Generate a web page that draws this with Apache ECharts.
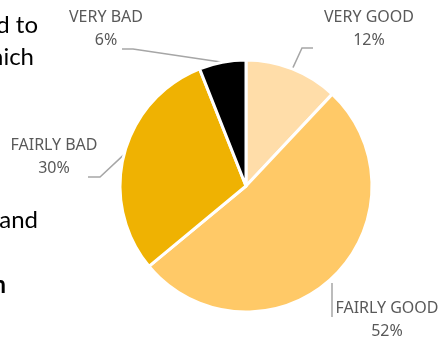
<!DOCTYPE html>
<html>
<head>
<meta charset="utf-8">
<style>
  html, body { margin: 0; padding: 0; background: #fff; }
  #chart { width: 440px; height: 344px; }
</style>
<script src="https://cdn.jsdelivr.net/npm/echarts@6/dist/echarts.min.js"></script>
</head>
<body>
<div id="chart"></div>
<script>
// Survey answers, in clockwise order from twelve o'clock
const categories = ['VERY GOOD', 'FAIRLY GOOD', 'FAIRLY BAD', 'VERY BAD'];
const shares = [12, 52, 30, 6];
const sliceColors = ['#FFDDA9', '#FFC967', '#EFB202', '#000000'];

// Where each label block sits and how its leader line bends
const labelSpots = [
  { x: 369, y: 29, bend: [[302, 48], [313, 48]] },
  { x: 387, y: 320, line: [[332, 283], [332, 317]] },
  { x: 54, y: 157, bend: [[100, 177], [88, 177]] },
  { x: 106, y: 29, bend: [[133, 49], [122, 49]] }
];

// Body text running beside the chart, clipped at the left edge
const sideText = [
  { text: 'd to', right: 38, y: 25, bold: false },
  { text: 'hich', right: 34, y: 57, bold: false },
  { text: 'and', right: 38, y: 220, bold: false },
  { text: 'n', right: 6, y: 285, bold: true }
];

const chart = echarts.init(document.getElementById('chart'));

chart.setOption({
  animation: false,
  backgroundColor: '#ffffff',
  graphic: sideText.map(t => ({
    type: 'text',
    x: t.right,
    y: t.y,
    style: {
      text: t.text,
      fill: '#000000',
      font: (t.bold ? 'bold ' : '') + '24px Lato',
      align: 'right',
      verticalAlign: 'middle'
    }
  })),
  series: [{
    type: 'pie',
    center: [246, 186],
    radius: 126,
    startAngle: 90,
    clockwise: true,
    itemStyle: { borderColor: '#ffffff', borderWidth: 3 },
    label: {
      show: true,
      formatter: p => p.name + '\n' + p.value + '%',
      color: '#595959',
      fontFamily: 'Noto Sans',
      fontSize: 16,
      lineHeight: 23,
      align: 'center',
      overflow: 'none'
    },
    labelLine: {
      show: true,
      lineStyle: { color: '#A6A6A6', width: 1.5 }
    },
    labelLayout: params => {
      const spot = labelSpots[params.dataIndex];
      const start = params.labelLinePoints ? params.labelLinePoints[0] : null;
      const pts = spot.line ? spot.line : [start].concat(spot.bend);
      return {
        x: spot.x,
        y: spot.y,
        width: 140,
        align: 'center',
        verticalAlign: 'middle',
        labelLinePoints: pts
      };
    },
    emphasis: { disabled: true },
    data: categories.map((name, i) => ({
      name: name,
      value: shares[i],
      itemStyle: { color: sliceColors[i] }
    }))
  }]
});
</script>
</body>
</html>
